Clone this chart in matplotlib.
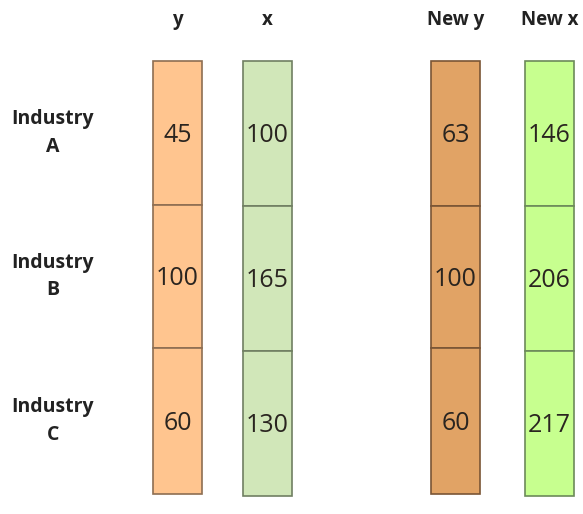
import matplotlib.pyplot as plt

industries = ["Industry\nA", "Industry\nB", "Industry\nC"]
headers = ["y", "x", "New y", "New x"]
y_vals = [45, 100, 60]
x_vals = [100, 165, 130]
new_y_vals = [63, 100, 60]
new_x_vals = [146, 206, 217]

columns = [y_vals, x_vals, new_y_vals, new_x_vals]
fills = ["#FFC58F", "#D1E7B9", "#E1A365", "#C7FF8F"]
edges = ["#8E6E52", "#707F62", "#7A5535", "#6C8A5A"]

# layout in pixel units
col_centers = [177.5, 267.5, 455.5, 549.5]
col_width = 49
row_edges = [
    [61, 205, 348, 494],
    [61, 206, 351, 496],
    [61, 206, 348, 494],
    [61, 206, 351, 496],
]

plt.rcParams["font.family"] = ["Open Sans", "DejaVu Sans"]

fig = plt.figure(figsize=(5.83, 5.14), dpi=100)
ax = fig.add_axes([0, 0, 1, 1])
ax.set_xlim(0, 583)
ax.set_ylim(514, 0)
ax.axis("off")

for vals, cx, fc, ec, rows, head in zip(columns, col_centers, fills, edges, row_edges, headers):
    tops = rows[:-1]
    heights = [b - t for t, b in zip(rows[:-1], rows[1:])]
    ax.bar([cx] * len(vals), heights, bottom=tops, width=col_width,
           color=fc, edgecolor=ec, linewidth=1.2)
    for v, t, h in zip(vals, tops, heights):
        ax.text(cx, t + h / 2 + 2, str(v), ha="center", va="center",
                fontsize=18, color="#2a2520")
    ax.text(cx, 20, head, ha="center", va="center", fontsize=13.5,
            fontweight="bold", color="#222222")

for lab, t, b in zip(industries, row_edges[0][:-1], row_edges[0][1:]):
    ax.text(53, (t + b) / 2, lab, ha="center", va="center", fontsize=14,
            fontweight="bold", color="#222222", linespacing=1.5)

fig.savefig("out.png", dpi=100)
